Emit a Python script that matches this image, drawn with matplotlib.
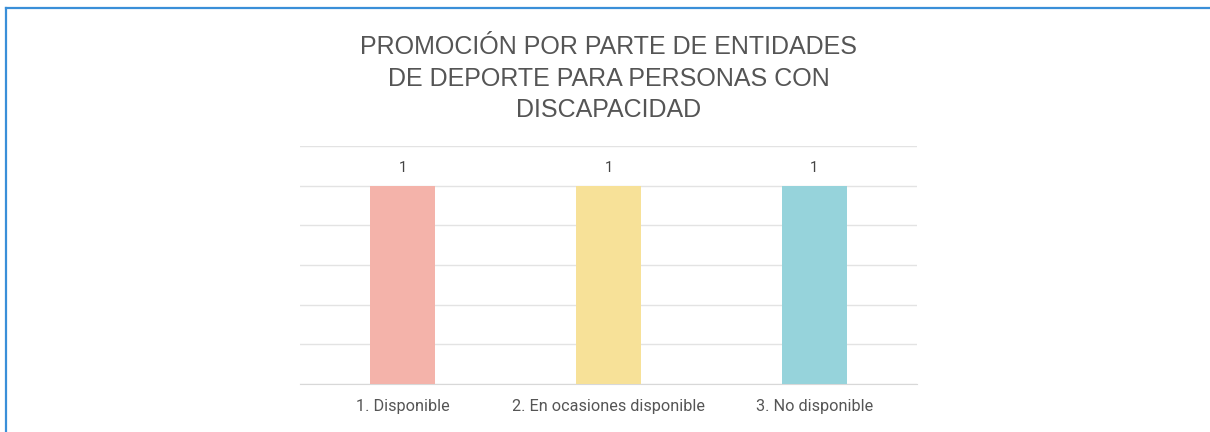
import matplotlib
matplotlib.use("Agg")
import matplotlib.pyplot as plt
from matplotlib.lines import Line2D

categories = ["1. Disponible", "2. En ocasiones disponible", "3. No disponible"]
values = [1, 1, 1]
colors = ["#F4B3AA", "#F7E198", "#96D3DB"]
title = "PROMOCIÓN POR PARTE DE ENTIDADES\nDE DEPORTE PARA PERSONAS CON\nDISCAPACIDAD"

W, H = 1210, 432
fig = plt.figure(figsize=(W / 100, H / 100), dpi=100)
ax = fig.add_axes([300 / W, 1 - 384 / H, 617 / W, 238 / H])

x = range(len(categories))
bars = ax.bar(x, values, width=0.315, color=colors, zorder=3)
for bar, v in zip(bars, values):
    ax.text(bar.get_x() + bar.get_width() / 2, v + 0.09, f"{v}", ha="center", va="center",
            fontsize=10.5, color="#444444", family="Roboto")

ax.set_xlim(-0.5, len(categories) - 0.5)
ax.set_ylim(0, 1.2)
ax.set_yticks([0, 0.2, 0.4, 0.6, 0.8, 1.0, 1.2])
ax.yaxis.grid(True, color="#e3e3e3", linewidth=1, zorder=0)
ax.tick_params(axis="y", left=False, labelleft=False)
ax.tick_params(axis="x", length=0, pad=11)
ax.set_xticks(list(x))
ax.set_xticklabels(categories, fontsize=11.7, color="#555555", family="Roboto")
for side in ["top", "right", "left"]:
    ax.spines[side].set_visible(False)
ax.spines["bottom"].set_color("#d8d8d8")

fig.text(609 / W, 1 - 78.5 / H, title, ha="center", va="center", fontsize=18,
         color="#555555", family="Liberation Sans", linespacing=1.4)

# blue frame, top and left edges only
fig.add_artist(Line2D([5.5 / W, 1], [1 - 7.5 / H, 1 - 7.5 / H], transform=fig.transFigure,
                      color="#3a8fd8", linewidth=1.6))
fig.add_artist(Line2D([5.5 / W, 5.5 / W], [0, 1 - 7.5 / H], transform=fig.transFigure,
                      color="#3a8fd8", linewidth=1.6))

fig.savefig("out.png", dpi=100)
